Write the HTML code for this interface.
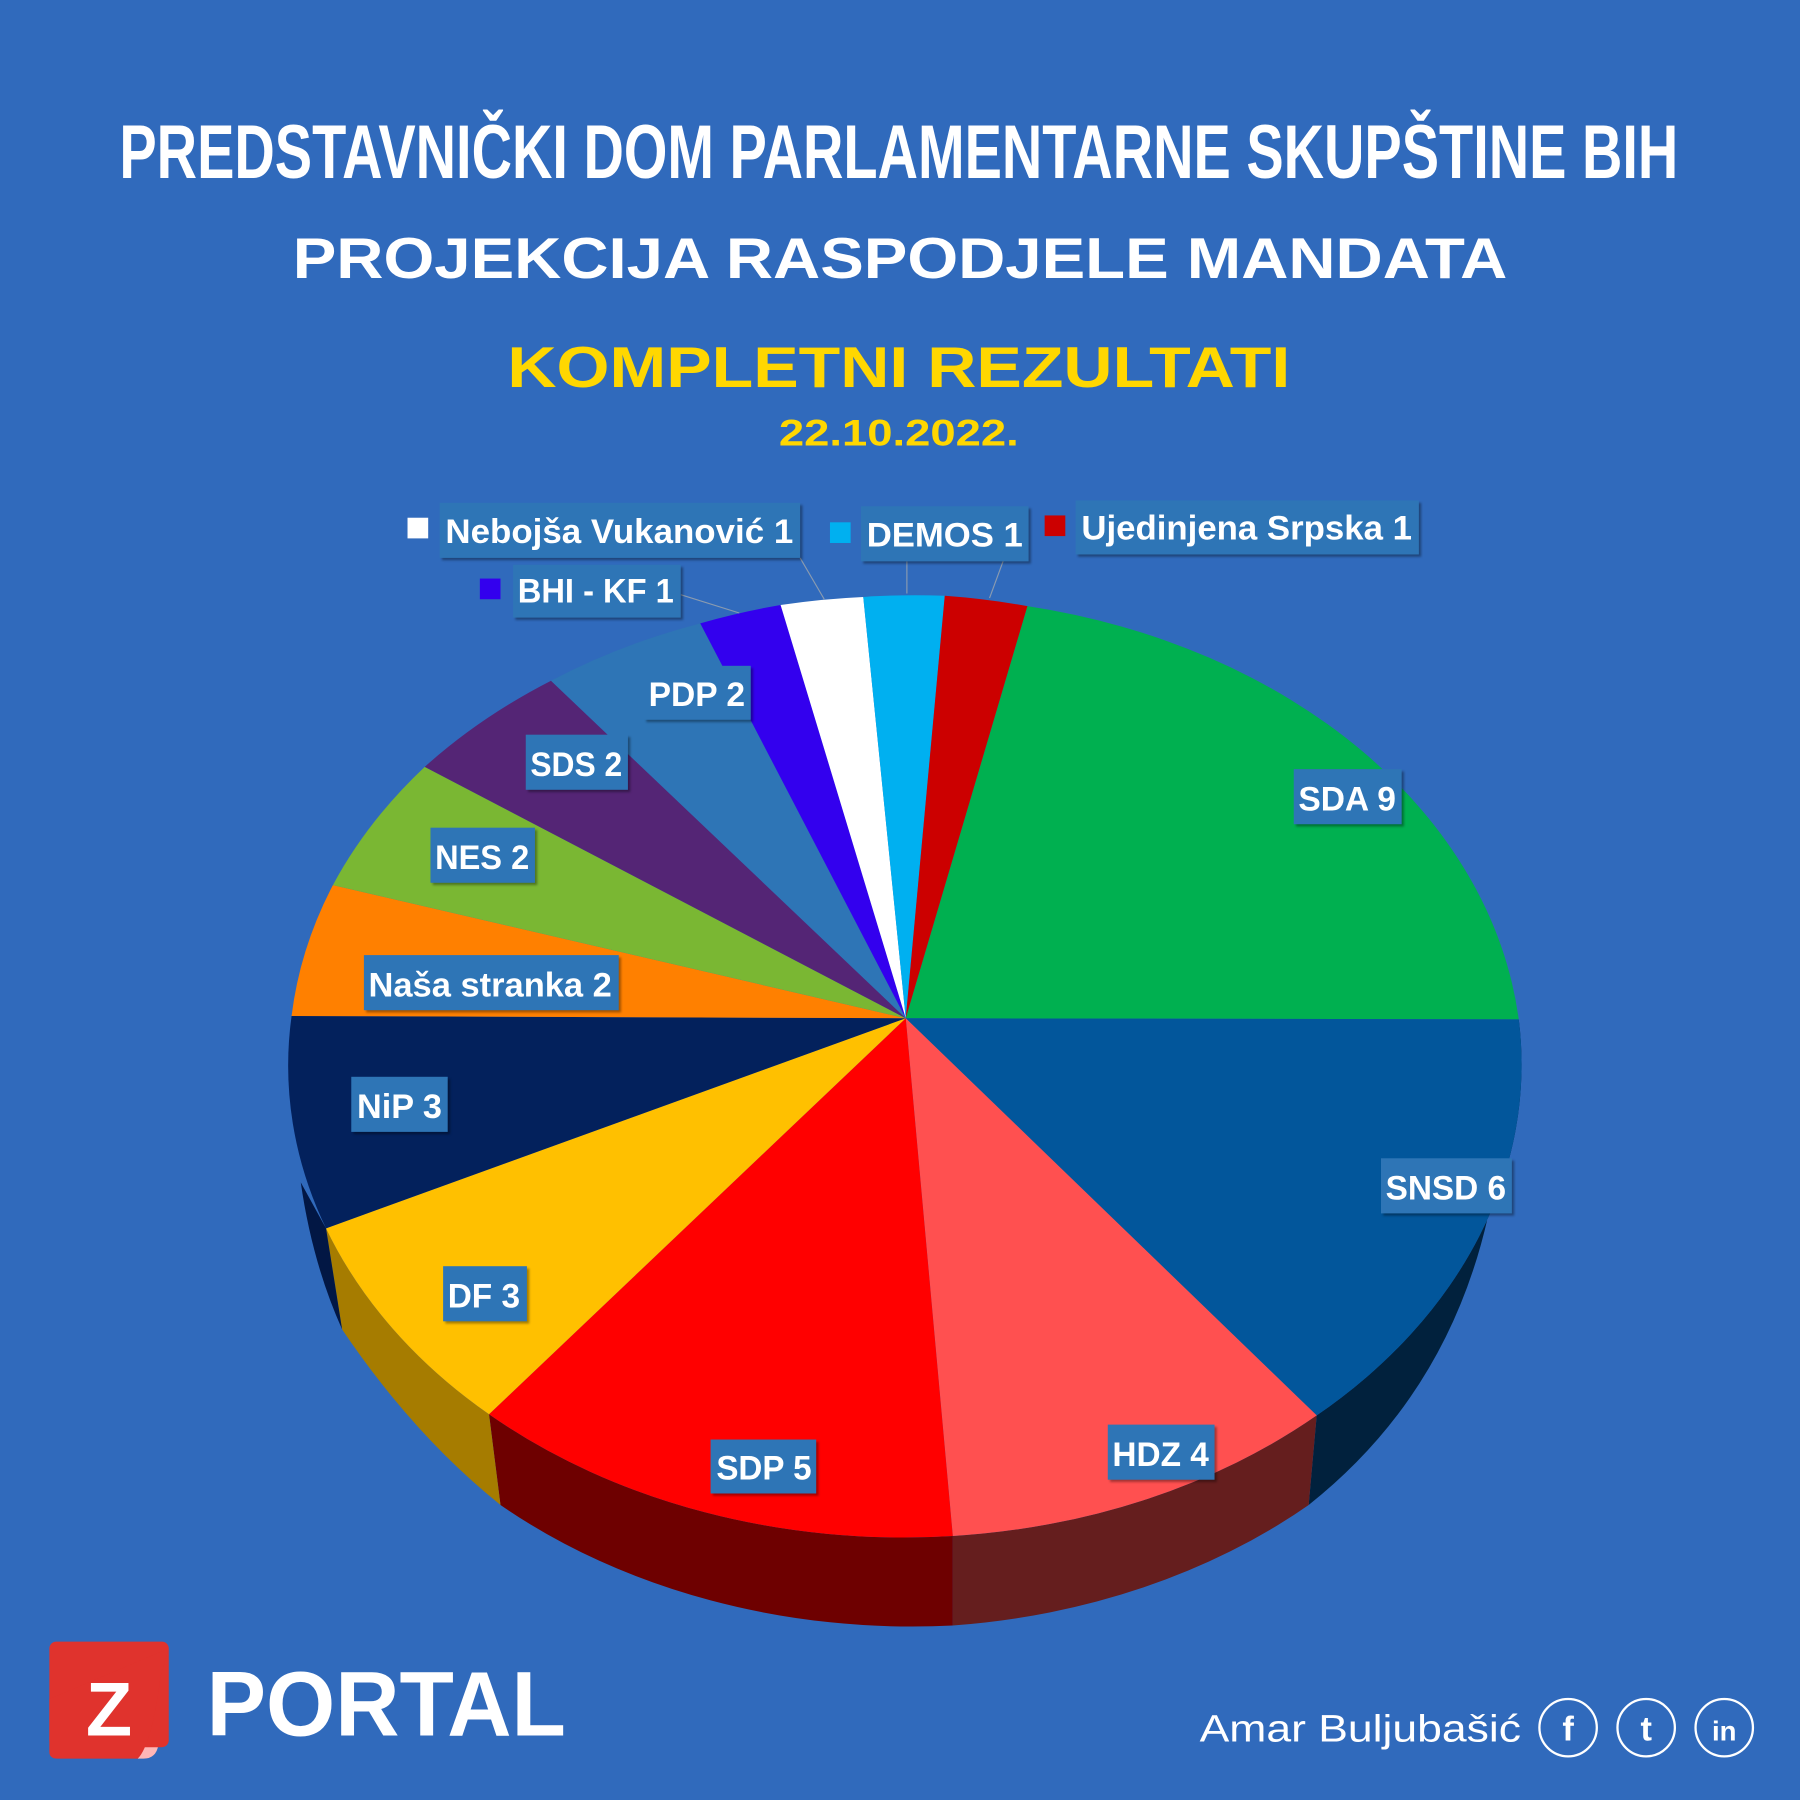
<!DOCTYPE html>
<html><head><meta charset="utf-8"><style>
html,body{margin:0;padding:0;background:#306abc;}
svg{display:block}
.t{font-family:"Liberation Sans",sans-serif;font-weight:bold;}
.l{font-family:"Liberation Sans Narrow","Liberation Sans",sans-serif;font-weight:bold;fill:#fff;font-size:30px;}
</style></head><body>
<svg width="1800" height="1800" viewBox="0 0 1568 1568" xmlns="http://www.w3.org/2000/svg">
<rect width="1568" height="1568" fill="#306abc"/>
<text class="t" x="783" y="155" text-anchor="middle" font-size="66" fill="#fff" textLength="1358" lengthAdjust="spacingAndGlyphs">PREDSTAVNIČKI DOM PARLAMENTARNE SKUPŠTINE BIH</text>
<text class="t" x="784" y="242" text-anchor="middle" font-size="50" fill="#fff" textLength="1058" lengthAdjust="spacingAndGlyphs">PROJEKCIJA RASPODJELE MANDATA</text>
<text class="t" x="783" y="337" text-anchor="middle" font-size="50" fill="#ffd700" textLength="682" lengthAdjust="spacingAndGlyphs">KOMPLETNI REZULTATI</text>
<text class="t" x="783" y="388" text-anchor="middle" font-size="32" fill="#ffd700" textLength="209" lengthAdjust="spacingAndGlyphs">22.10.2022.</text>

<!-- sides -->
<g>
<path d="M1323,888 A535,410 0 0,1 1147,1233 L1140,1311 Q1280,1200 1305,1010 Z" fill="#01213d"/>
<path d="M1147,1233 A535,410 0 0,1 830,1338 L830,1416 A535,410 0 0,0 1140,1311 Z" fill="#651e1e"/>
<path d="M830,1338 A535,410 0 0,1 426,1232 L436,1311 A535,410 0 0,0 830,1416 Z" fill="#6e0000"/>
<path d="M426,1232 A535,410 0 0,1 284,1070 L298,1158 Q360,1250 436,1311 Z" fill="#a67c00"/>
<path d="M284,1070 L298,1158 Q272,1100 262,1030 Z" fill="#021744"/>
</g>
<!-- top slices -->
<g>
<path d="M789,887 L895,528 A535,410 0 0,1 1323,888 Z" fill="#00b050"/>
<path d="M789,887 L1323,888 A535,410 0 0,1 1147,1233 Z" fill="#02569b"/>
<path d="M789,887 L1147,1233 A535,410 0 0,1 830,1338 Z" fill="#ff5050"/>
<path d="M789,887 L830,1338 A535,410 0 0,1 426,1232 Z" fill="#ff0000"/>
<path d="M789,887 L426,1232 A535,410 0 0,1 284,1070 Z" fill="#ffc000"/>
<path d="M789,887 L284,1070 A535,410 0 0,1 254,885 Z" fill="#03215c"/>
<path d="M789,887 L254,885 A535,410 0 0,1 290,771 Z" fill="#ff8000"/>
<path d="M789,887 L290,771 A535,410 0 0,1 370,668 Z" fill="#7ab733"/>
<path d="M789,887 L370,668 A535,410 0 0,1 480,593 Z" fill="#542575"/>
<path d="M789,887 L480,593 A535,410 0 0,1 610,543 Z" fill="#2e75b6"/>
<path d="M789,887 L610,543 A535,410 0 0,1 680,527 Z" fill="#3300ee"/>
<path d="M789,887 L680,527 A535,410 0 0,1 752,520 Z" fill="#ffffff"/>
<path d="M789,887 L752,520 A535,410 0 0,1 823,519 Z" fill="#00b0f0"/>
<path d="M789,887 L823,519 A535,410 0 0,1 895,528 Z" fill="#cc0000"/>
</g>
<!-- leader lines -->
<g stroke="#8a9bb0" stroke-width="1">
<line x1="697" y1="486" x2="718" y2="522"/>
<line x1="790" y1="489" x2="790" y2="517"/>
<line x1="876" y1="483" x2="862" y2="521"/>
<line x1="593" y1="518" x2="644" y2="534"/>
</g>
<!-- labels -->
<g>
<rect x="355" y="451" width="18" height="18" fill="#fff"/>
<rect x="723" y="455" width="18" height="18" fill="#00b0f0"/>
<rect x="910" y="449" width="18" height="18" fill="#cc0000"/>
<rect x="418" y="504" width="18" height="18" fill="#3300ee"/>
</g>
<g fill="#2e75b6" style="filter:drop-shadow(2px 2px 1px rgba(0,0,0,0.35))">
<rect x="383" y="438" width="314" height="48"/>
<rect x="750" y="441" width="146" height="48"/>
<rect x="937" y="436" width="299" height="47"/>
<rect x="447" y="492" width="146" height="46"/>
<rect x="561" y="580" width="93" height="47"/>
<rect x="458" y="640" width="89" height="48"/>
<rect x="375" y="721" width="91" height="48"/>
<rect x="317" y="832" width="222" height="48"/>
<rect x="306" y="938" width="84" height="48"/>
<rect x="386" y="1103" width="73" height="48"/>
<rect x="619" y="1254" width="92" height="47"/>
<rect x="965" y="1241" width="93" height="48"/>
<rect x="1203" y="1009" width="114" height="48"/>
<rect x="1127" y="670" width="94" height="48"/>
</g>
<g class="l">
<text x="388" y="473" textLength="303" lengthAdjust="spacingAndGlyphs">Nebojša Vukanović 1</text>
<text x="755" y="476" textLength="136" lengthAdjust="spacingAndGlyphs">DEMOS 1</text>
<text x="942" y="470" textLength="288" lengthAdjust="spacingAndGlyphs">Ujedinjena Srpska 1</text>
<text x="451" y="525" textLength="136" lengthAdjust="spacingAndGlyphs">BHI - KF 1</text>
<text x="565" y="615" textLength="84" lengthAdjust="spacingAndGlyphs">PDP 2</text>
<text x="462" y="676" textLength="80" lengthAdjust="spacingAndGlyphs">SDS 2</text>
<text x="379" y="757" textLength="82" lengthAdjust="spacingAndGlyphs">NES 2</text>
<text x="321" y="868" textLength="212" lengthAdjust="spacingAndGlyphs">Naša stranka 2</text>
<text x="311" y="974" textLength="74" lengthAdjust="spacingAndGlyphs">NiP 3</text>
<text x="390" y="1139" textLength="63" lengthAdjust="spacingAndGlyphs">DF 3</text>
<text x="624" y="1289" textLength="83" lengthAdjust="spacingAndGlyphs">SDP 5</text>
<text x="969" y="1277" textLength="84" lengthAdjust="spacingAndGlyphs">HDZ 4</text>
<text x="1207" y="1045" textLength="105" lengthAdjust="spacingAndGlyphs">SNSD 6</text>
<text x="1131" y="706" textLength="85" lengthAdjust="spacingAndGlyphs">SDA 9</text>
</g>
<!-- footer -->
<path d="M140,1460 L138,1520 Q136,1532 125,1532 L120,1532 Z" fill="#ffb6b6"/>
<rect x="43" y="1430" width="104" height="92" rx="6" fill="#e0332d"/>
<path d="M43,1480 L43,1526 Q43,1532 50,1532 L120,1532 Q132,1520 140,1460 L147,1436 Z" fill="#e0332d"/>
<text class="t" x="95" y="1512" text-anchor="middle" font-size="66" fill="#fff">Z</text>
<text class="t" x="180" y="1512" font-size="80" fill="#fff" textLength="313" lengthAdjust="spacingAndGlyphs">PORTAL</text>
<text x="1045" y="1517" font-family="Liberation Sans,sans-serif" font-size="33" fill="#fff" textLength="280" lengthAdjust="spacingAndGlyphs">Amar Buljubašić</text>
<g fill="none" stroke="#fff" stroke-width="2">
<circle cx="1366" cy="1505" r="25"/><circle cx="1434" cy="1505" r="25"/><circle cx="1502" cy="1505" r="25"/>
</g>
<g class="t" fill="#fff" font-size="30" text-anchor="middle">
<text x="1366" y="1516">f</text><text x="1434" y="1516">t</text><text x="1502" y="1516" font-size="24">in</text>
</g>
</svg>
</body></html>
